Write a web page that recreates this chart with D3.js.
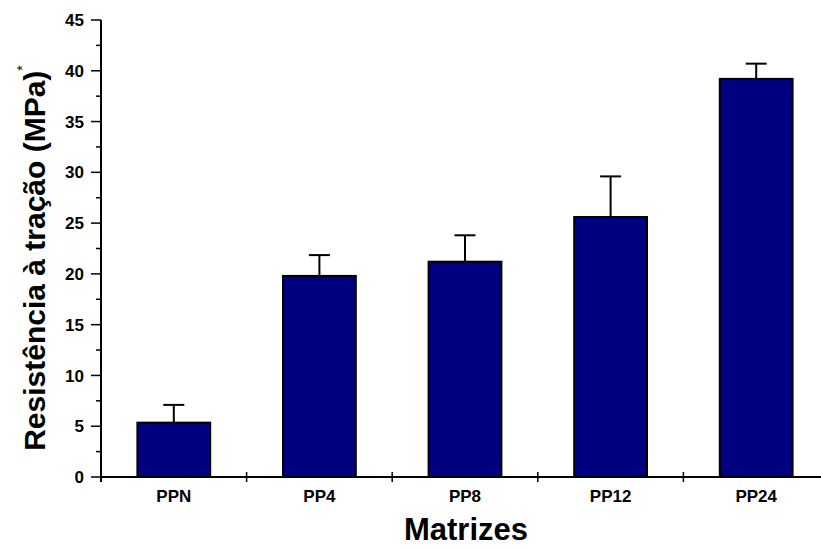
<!DOCTYPE html>
<html>
<head>
<meta charset="utf-8">
<script src="https://cdn.jsdelivr.net/npm/d3@7"></script>
<style>
  html, body { margin: 0; padding: 0; background: #fff; }
  svg { display: block; font-family: "Liberation Sans", Arial, sans-serif; font-weight: bold; }
</style>
</head>
<body>
<div class="container"></div>
<script>
// values (MPa)
const categories = ["PPN", "PP4", "PP8", "PP12", "PP24"];
const values = [5.35, 19.8, 21.2, 25.6, 39.2];
const errors = [1.75, 2.05, 2.6, 4.0, 1.5];
const yMajorTicks = [0, 5, 10, 15, 20, 25, 30, 35, 40, 45];
const yMinorTicks = [2.5, 7.5, 12.5, 17.5, 22.5, 27.5, 32.5, 37.5, 42.5];

const width = 821;
const height = 548;
const plot = { left: 101, right: 829, top: 20, bottom: 477 };

const svg = d3.select(".container")
    .append("svg")
    .attr("width", width)
    .attr("height", height);

const x = d3.scaleBand()
    .domain(categories)
    .range([plot.left, plot.right])
    .paddingInner(0.5)
    .paddingOuter(0.25);

const y = d3.scaleLinear()
    .domain([0, 45])
    .range([plot.bottom, plot.top]);

const data = categories.map((c, i) => ({ name: c, value: values[i], err: errors[i] }));

// error bars (upper half only), drawn first so the bar outline covers the stem base
const eb = svg.append("g").attr("class", "errorbars");
eb.selectAll("line.stem")
    .data(data)
    .enter()
    .append("line")
    .attr("x1", (d) => x(d.name) + x.bandwidth() / 2)
    .attr("x2", (d) => x(d.name) + x.bandwidth() / 2)
    .attr("y1", (d) => y(d.value))
    .attr("y2", (d) => y(d.value + d.err))
    .attr("stroke", "#000")
    .attr("stroke-width", 2);

eb.selectAll("line.cap")
    .data(data)
    .enter()
    .append("line")
    .attr("x1", (d) => x(d.name) + x.bandwidth() / 2 - 10.5)
    .attr("x2", (d) => x(d.name) + x.bandwidth() / 2 + 10.5)
    .attr("y1", (d) => y(d.value + d.err))
    .attr("y2", (d) => y(d.value + d.err))
    .attr("stroke", "#000")
    .attr("stroke-width", 2);

svg.append("g")
    .selectAll("rect")
    .data(data)
    .enter()
    .append("rect")
    .attr("x", (d) => x(d.name))
    .attr("y", (d) => y(d.value))
    .attr("width", x.bandwidth())
    .attr("height", (d) => y(0) - y(d.value))
    .attr("fill", "#000080")
    .attr("stroke", "#000")
    .attr("stroke-width", 2);

// y axis
const yAxis = svg.append("g").attr("class", "y-axis");
yAxis.append("line")
    .attr("x1", plot.left).attr("x2", plot.left)
    .attr("y1", y(45)).attr("y2", plot.bottom + 5)
    .attr("stroke", "#000").attr("stroke-width", 2);

yAxis.selectAll("line.major")
    .data(yMajorTicks)
    .enter()
    .append("line")
    .attr("x1", plot.left - 10).attr("x2", plot.left)
    .attr("y1", (d) => y(d)).attr("y2", (d) => y(d))
    .attr("stroke", "#000").attr("stroke-width", 1.5);

yAxis.selectAll("line.minor")
    .data(yMinorTicks)
    .enter()
    .append("line")
    .attr("x1", plot.left - 5).attr("x2", plot.left)
    .attr("y1", (d) => y(d)).attr("y2", (d) => y(d))
    .attr("stroke", "#000").attr("stroke-width", 1.5);

yAxis.selectAll("text")
    .data(yMajorTicks)
    .enter()
    .append("text")
    .attr("x", plot.left - 17)
    .attr("y", (d) => y(d))
    .attr("dy", "0.36em")
    .attr("text-anchor", "end")
    .attr("font-size", "17px")
    .text((d) => d);

// x axis
const xAxis = svg.append("g").attr("class", "x-axis");
xAxis.append("line")
    .attr("x1", plot.left).attr("x2", width)
    .attr("y1", plot.bottom).attr("y2", plot.bottom)
    .attr("stroke", "#000").attr("stroke-width", 2);

const boundaries = categories.map((c) => x(c) - x.step() * 0.25).concat([plot.right]);
xAxis.selectAll("line.tick")
    .data(boundaries)
    .enter()
    .append("line")
    .attr("x1", (d) => d).attr("x2", (d) => d)
    .attr("y1", plot.bottom - 5).attr("y2", plot.bottom + 5)
    .attr("stroke", "#000").attr("stroke-width", 1.5);

xAxis.selectAll("text")
    .data(categories)
    .enter()
    .append("text")
    .attr("x", (d) => x(d) + x.bandwidth() / 2)
    .attr("y", 502)
    .attr("text-anchor", "middle")
    .attr("font-size", "17px")
    .text((d) => d);

// axis titles
svg.append("text")
    .attr("x", 466)
    .attr("y", 540)
    .attr("text-anchor", "middle")
    .attr("font-size", "31px")
    .text("Matrizes");

const yTitle = svg.append("text")
    .attr("transform", `translate(45, 258) rotate(-90)`)
    .attr("text-anchor", "middle")
    .attr("font-size", "30px");
yTitle.append("tspan").text("Resistência à tração (MPa)");
yTitle.append("tspan")
    .attr("font-size", "14px")
    .attr("font-weight", "normal")
    .attr("dy", "-18")
    .text("*");
</script>
</body>
</html>
